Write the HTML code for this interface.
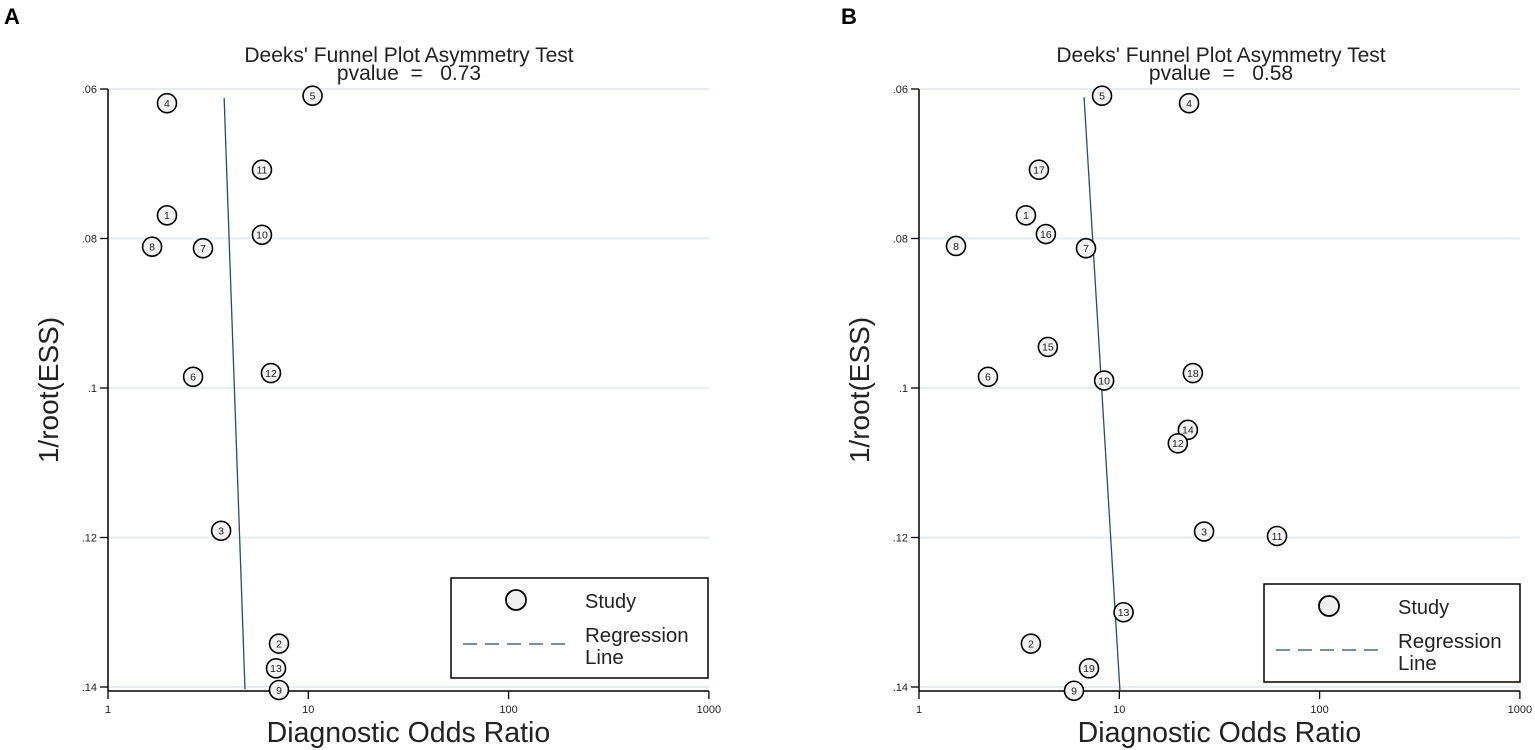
<!DOCTYPE html>
<html><head><meta charset="utf-8"><style>
html,body{margin:0;padding:0;background:#fff;}
svg{display:block;font-family:"Liberation Sans",Arial,sans-serif;}
text{white-space:pre;}
</style></head><body>
<svg id="chart" width="1535" height="750" viewBox="0 0 1535 750"></svg>
<script>
const xTickValues = [1, 10, 100, 1000];
const xTickLabels = ["1", "10", "100", "1000"];
const yTickValues = [0.06, 0.08, 0.10, 0.12, 0.14];
const yTickLabels = [".06", ".08", ".1", ".12", ".14"];

const studyIdsA = [5, 4, 11, 1, 10, 8, 7, 6, 12, 3, 2, 13, 9];
const dorA = [10.5, 1.97, 5.87, 1.97, 5.87, 1.66, 2.98, 2.66, 6.51, 3.67, 7.14, 6.9, 7.14];
const essA = [0.0609, 0.0619, 0.0708, 0.0769, 0.0795, 0.0811, 0.0813, 0.0985, 0.098, 0.1191, 0.1342, 0.1375, 0.1404];
const regDorA = [3.8, 4.83];
const regEssA = [0.0612, 0.1403];
const pvalueA = "0.73";

const studyIdsB = [5, 4, 17, 1, 16, 8, 7, 15, 6, 10, 18, 14, 12, 3, 11, 13, 2, 19, 9];
const dorB = [8.2, 22.3, 3.97, 3.42, 4.3, 1.53, 6.82, 4.4, 2.21, 8.4, 23.3, 22, 19.6, 26.5, 61.3, 10.5, 3.62, 7.06, 5.94];
const essB = [0.0609, 0.0619, 0.0708, 0.0769, 0.0794, 0.081, 0.0813, 0.0945, 0.0985, 0.099, 0.098, 0.1056, 0.1074, 0.1192, 0.1198, 0.13, 0.1342, 0.1375, 0.1405];
const regDorB = [6.67, 10.07];
const regEssB = [0.0611, 0.1404];
const pvalueB = "0.58";

const NS = "http://www.w3.org/2000/svg";
const svg = document.getElementById("chart");
function el(tag, attrs, parent, text) {
  const e = document.createElementNS(NS, tag);
  for (const k in attrs) e.setAttribute(k, attrs[k]);
  if (text !== undefined) e.textContent = text;
  (parent || svg).appendChild(e);
  return e;
}

function drawPanel(p) {
  const g = el("g", {});
  
  
  const x = v => p.x0 + Math.log10(v) * p.dec;
  const y = v => 89 + (v - 0.06) / 0.02 * 149.5;
  const xEnd = x(1000);
  const axisY = 691;

  const lt = el("text", {x: p.letterX, y: 24, "font-size": 22, "font-weight": "bold"}, g, p.letter);
  
  

  const t1 = el("text", {x: p.titleX, y: 62, "font-size": 21, "text-anchor": "middle", fill: "#222"}, g, "Deeks' Funnel Plot Asymmetry Test");
  
  
  const t2 = el("text", {x: p.titleX, y: 80, "font-size": 21, "text-anchor": "middle", fill: "#222"}, g, "pvalue  =   " + p.pvalue);
  
  

  yTickValues.forEach((v, i) => {
    const gl = el("line", {x1: p.x0 + 1, x2: xEnd, y1: y(v), y2: y(v), stroke: "#e3edf2", "stroke-width": 2}, g);
    
    
    el("line", {x1: p.x0 - 8, x2: p.x0, y1: y(v), y2: y(v), stroke: "#000", "stroke-width": 1.3}, g);
    const tl = el("text", {x: p.x0 - 11, y: y(v) + 4, "font-size": 11, "text-anchor": "end", fill: "#222"}, g, yTickLabels[i]);
    
    
  });
  const ya = el("line", {x1: p.x0, x2: p.x0, y1: y(0.06), y2: axisY, stroke: "#000", "stroke-width": 1.5}, g);
  
  
  const xa = el("line", {x1: p.x0, x2: xEnd, y1: axisY, y2: axisY, stroke: "#000", "stroke-width": 1.5}, g);
  
  
  xTickValues.forEach((v, i) => {
    el("line", {x1: x(v), x2: x(v), y1: axisY, y2: axisY + 8, stroke: "#000", "stroke-width": 1.3}, g);
    const tl = el("text", {x: x(v), y: axisY + 22, "font-size": 11, "text-anchor": "middle", fill: "#222"}, g, xTickLabels[i]);
    
    
  });

  const yt = el("text", {x: 0, y: 0, "font-size": 28, "text-anchor": "middle", transform: "translate(" + (p.x0 - 50) + ",390) rotate(-90)", fill: "#222"}, g, "1/root(ESS)");
  
  
  const xt = el("text", {x: (p.x0 + xEnd) / 2, y: 742, "font-size": 28.5, "text-anchor": "middle", fill: "#222"}, g, "Diagnostic Odds Ratio");
  
  

  const x1 = x(p.regDor[0]), y1 = y(p.regEss[0]), x2 = x(p.regDor[1]), y2 = y(p.regEss[1]);
  const rl = el("line", {x1: x1, y1: y1, x2: x2, y2: y2, stroke: "#1f4e79", "stroke-width": 1.3}, g);
  
  

  p.ids.forEach((id, i) => {
    const cx = x(p.dor[i]), cy = y(p.ess[i]);
    const c = el("circle", {cx: cx, cy: cy, r: 9.5, fill: "#f2f2f2", stroke: "#000", "stroke-width": 1.6}, g);
    
    
    const lab = el("text", {x: cx, y: cy + 3.8, "font-size": 10.5, "text-anchor": "middle", fill: "#222"}, g, String(id));
    
    
  });

  const L = p.legend;
  const lg = el("g", {}, g);
  
  
  el("rect", {x: L.x, y: L.y, width: L.w, height: L.h, fill: "#fff", stroke: "#000", "stroke-width": 1.5}, lg);
  const lc = el("circle", {cx: L.x + 65, cy: L.y + 22, r: 10, fill: "#f0f0f0", stroke: "#000", "stroke-width": 1.8}, lg);
  
  
  const ls = el("text", {x: L.x + 134, y: L.y + 30, "font-size": 20, fill: "#222"}, lg, "Study");
  
  
  const ll = el("line", {x1: L.x + 12, x2: L.x + 118, y1: L.y + 66, y2: L.y + 66, stroke: "#1f4e79", "stroke-width": 1.3, "stroke-dasharray": "14,8"}, lg);
  
  
  const lr = el("text", {x: L.x + 134, y: L.y + 64, "font-size": 20.5, fill: "#222"}, lg, "Regression");
  
  
  el("text", {x: L.x + 134, y: L.y + 86, "font-size": 20.5, fill: "#222"}, lg, "Line");
}

drawPanel({letter: "A", letterX: 4, titleX: 409, x0: 108, dec: 200.3, pvalue: pvalueA,
  ids: studyIdsA, dor: dorA, ess: essA, regDor: regDorA, regEss: regEssA,
  legend: {x: 451, y: 578, w: 257, h: 100}});
drawPanel({letter: "B", letterX: 841, titleX: 1221, x0: 919, dec: 200.3, pvalue: pvalueB,
  ids: studyIdsB, dor: dorB, ess: essB, regDor: regDorB, regEss: regEssB,
  legend: {x: 1264, y: 584, w: 256, h: 98}});
</script>
</body></html>
